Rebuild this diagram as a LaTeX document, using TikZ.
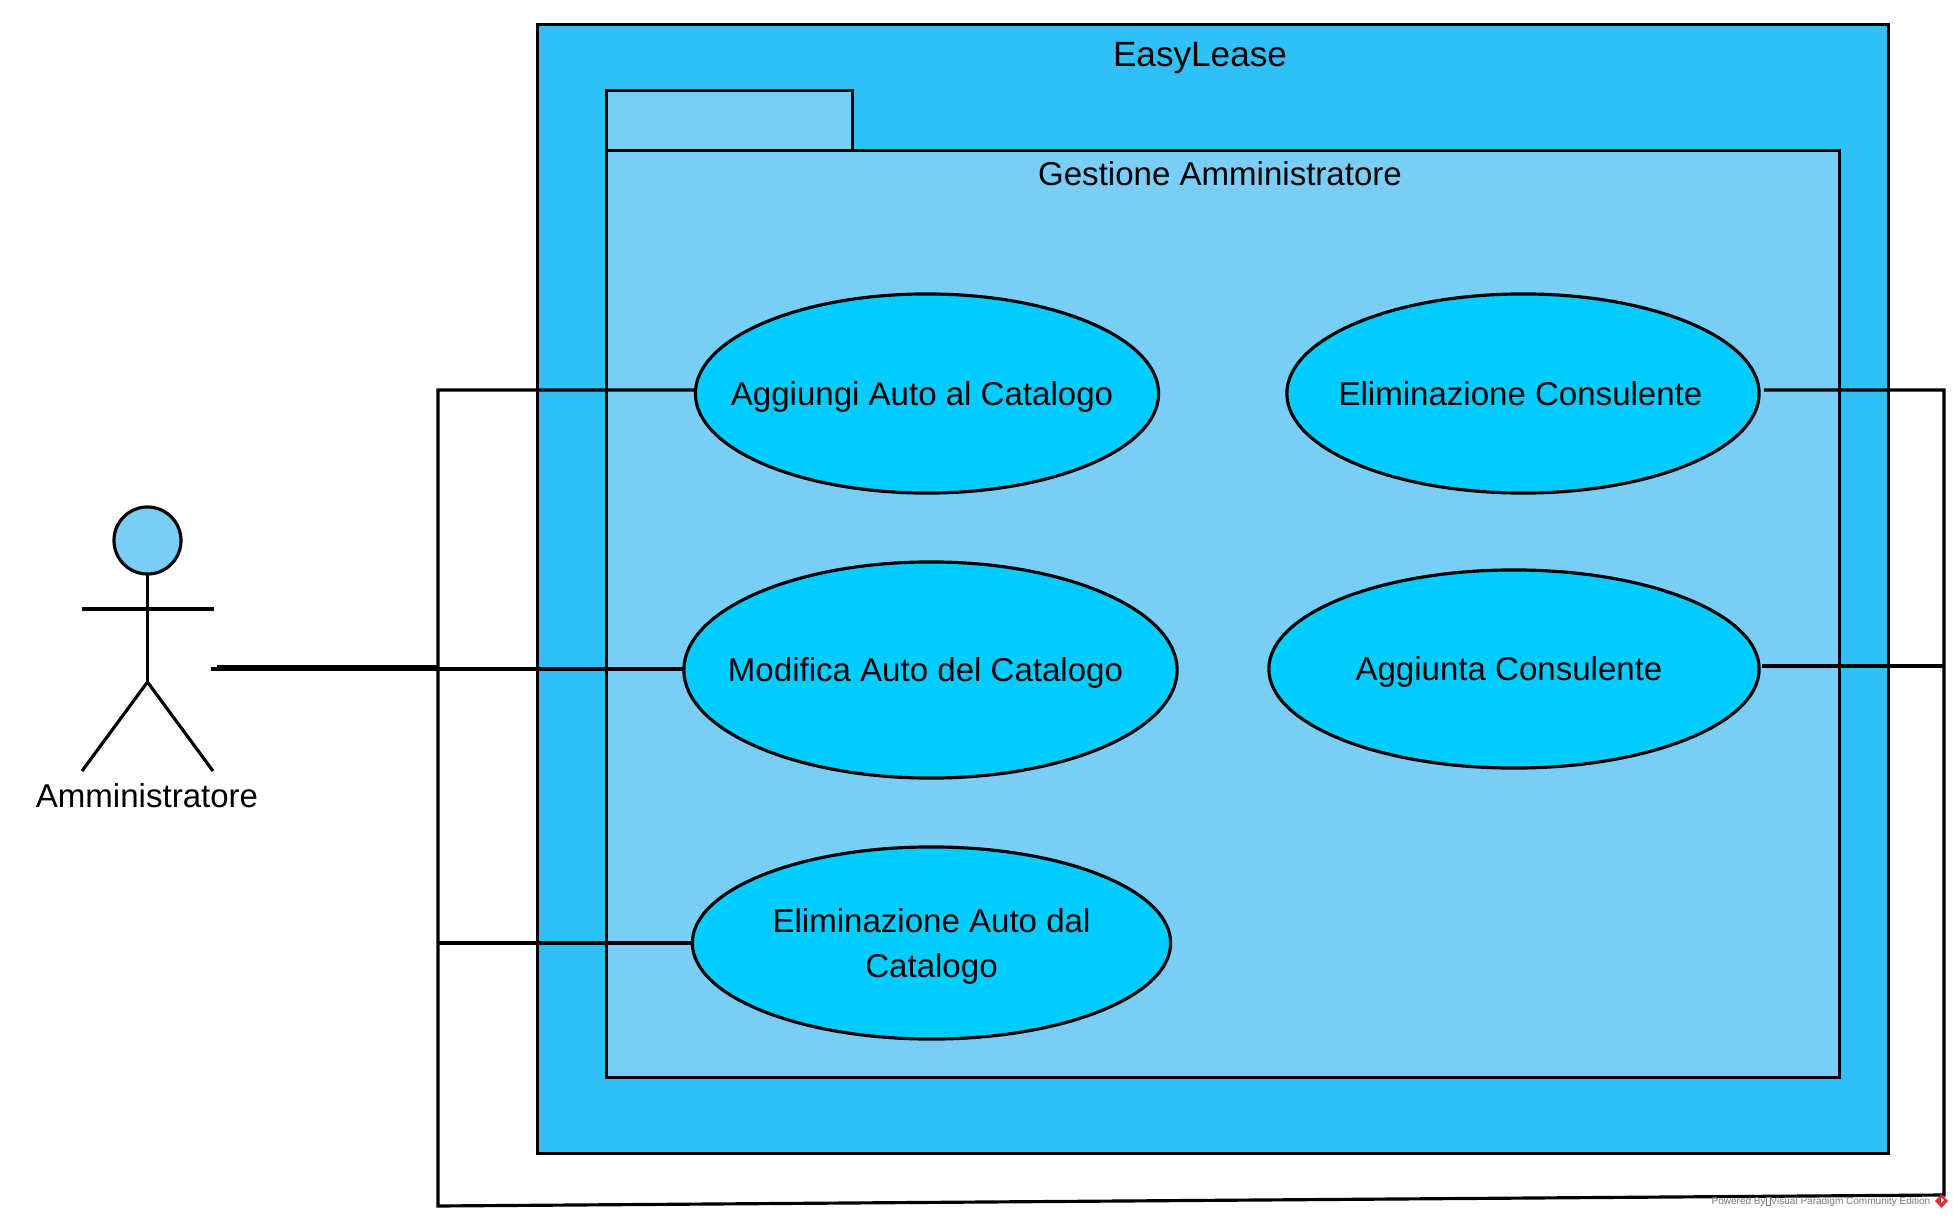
\documentclass[tikz,border=0pt]{standalone}
\usepackage{fontspec}
\setmainfont{Liberation Sans}
\usetikzlibrary{shapes.geometric}

\definecolor{systemblue}{HTML}{2FC0F8}
\definecolor{packageblue}{HTML}{7ACEF6}
\definecolor{caseblue}{HTML}{00CCFF}
\definecolor{footgray}{HTML}{77777F}
\definecolor{footred}{HTML}{D2343A}

\newcommand{\casetext}[1]{\makebox[0pt]{#1}}
\newcommand{\footbox}{{\setlength{\fboxsep}{0pt}\setlength{\fboxrule}{0.2pt}\fbox{\rule{1.0pt}{0pt}\rule{0pt}{1.9pt}}}}

\tikzset{
  line/.style={line width=0.9pt,draw=black},
  panel/.style={line,rectangle,inner sep=0pt,outer sep=0pt},
  usecase/.style={line,ellipse,fill=caseblue,inner sep=0pt,outer sep=0pt,align=center,text depth=0pt},
  title/.style={inner sep=0pt}
}

\begin{document}
\begin{tikzpicture}[x=0.01cm,y=-0.01cm,font=\fontsize{9.4}{12.8}\selectfont]
\useasboundingbox (0,0) rectangle (1953,1218);

% system and package
\node[panel,fill=systemblue,minimum width=13.5cm,minimum height=11.28cm] (easylease) at (1213,589) {};
\node[panel,fill=packageblue,minimum width=2.465cm,minimum height=0.61cm] (tab) at (729.5,121) {};
\node[panel,fill=packageblue,minimum width=12.32cm,minimum height=9.27cm] (gestione) at (1223,614) {};

\node[title,font=\fontsize{10}{12}\selectfont] (easyleasetitle) at (1200,58.5) {EasyLease};
\node[title] (gestionetitle) at (1220,174) {Gestione Amministratore};

% use cases
\node[usecase,minimum width=4.63cm,minimum height=1.99cm] (aggiungi) at (927,393.5) {\casetext{Aggiungi Auto al Catalogo\hspace{0.1cm}}};
\node[usecase,minimum width=4.93cm,minimum height=2.16cm] (modifica) at (930.5,670) {\casetext{Modifica Auto del Catalogo\hspace{0.1cm}}};
\node[usecase,minimum width=4.78cm,minimum height=1.92cm] (eliminaauto) at (931.5,943) {Eliminazione Auto dal\\Catalogo};
\node[usecase,minimum width=4.72cm,minimum height=1.99cm] (eliminacons) at (1523,393.5) {\casetext{Eliminazione Consulente\hspace{0.05cm}}};
\node[usecase,minimum width=4.90cm,minimum height=1.98cm] (aggiunta) at (1514,669) {\casetext{Aggiunta Consulente\hspace{0.1cm}}};

% actor
\node[line,circle,fill=packageblue,minimum size=0.67cm,inner sep=0pt,outer sep=0pt] (head) at (147.5,540.5) {};
\coordinate (hip) at (147.5,682);
\coordinate (armleft) at (81.5,609);
\coordinate (armright) at (213.5,609);
\coordinate (footleft) at (82,771);
\coordinate (footright) at (213,771);
\draw[line] (head.south) -- (hip);
\draw[line] (armleft) -- (armright);
\draw[line] (footleft) -- (hip) -- (footright);
\node[title] (amministratore) at (147,796) {Amministratore};

% connectors
\coordinate (actorthin) at (211,669);
\coordinate (actorthick) at (217,666.5);
\coordinate (busthick) at (438,666.5);
\coordinate (bustop) at (438,390);
\coordinate (buslow) at (438,943);
\coordinate (buscorner) at (438,1206);
\coordinate (farcorner) at (1944,1195);
\coordinate (fartop) at (1944,390);
\coordinate (farmid) at (1944,666);

\draw[line] (actorthick) -- (busthick);
\draw[line] (actorthin) -- (modifica.west |- actorthin);
\draw[line,shorten >=1.4pt] (bustop -| aggiungi.west) -- (bustop) -- (buscorner) -- (farcorner) -- (fartop) -- (bustop -| eliminacons.east);
\draw[line] (buslow) -- (eliminaauto.west);
\draw[line,shorten >=0.7pt] (farmid) -- (farmid -| aggiunta.east);

% footer
\node[title,text=footgray,font=\fontsize{2.85}{3}\selectfont,anchor=east] (footer) at (1931,1202) {Powered By\footbox Visual Paradigm Community Edition};
\fill[footred] (1941.5,1194) -- (1948,1201) -- (1941.5,1208) -- (1935,1201) -- cycle;
\fill[white] (1941,1198) -- (1944,1200) -- (1941,1203) -- cycle;
\end{tikzpicture}
\end{document}
